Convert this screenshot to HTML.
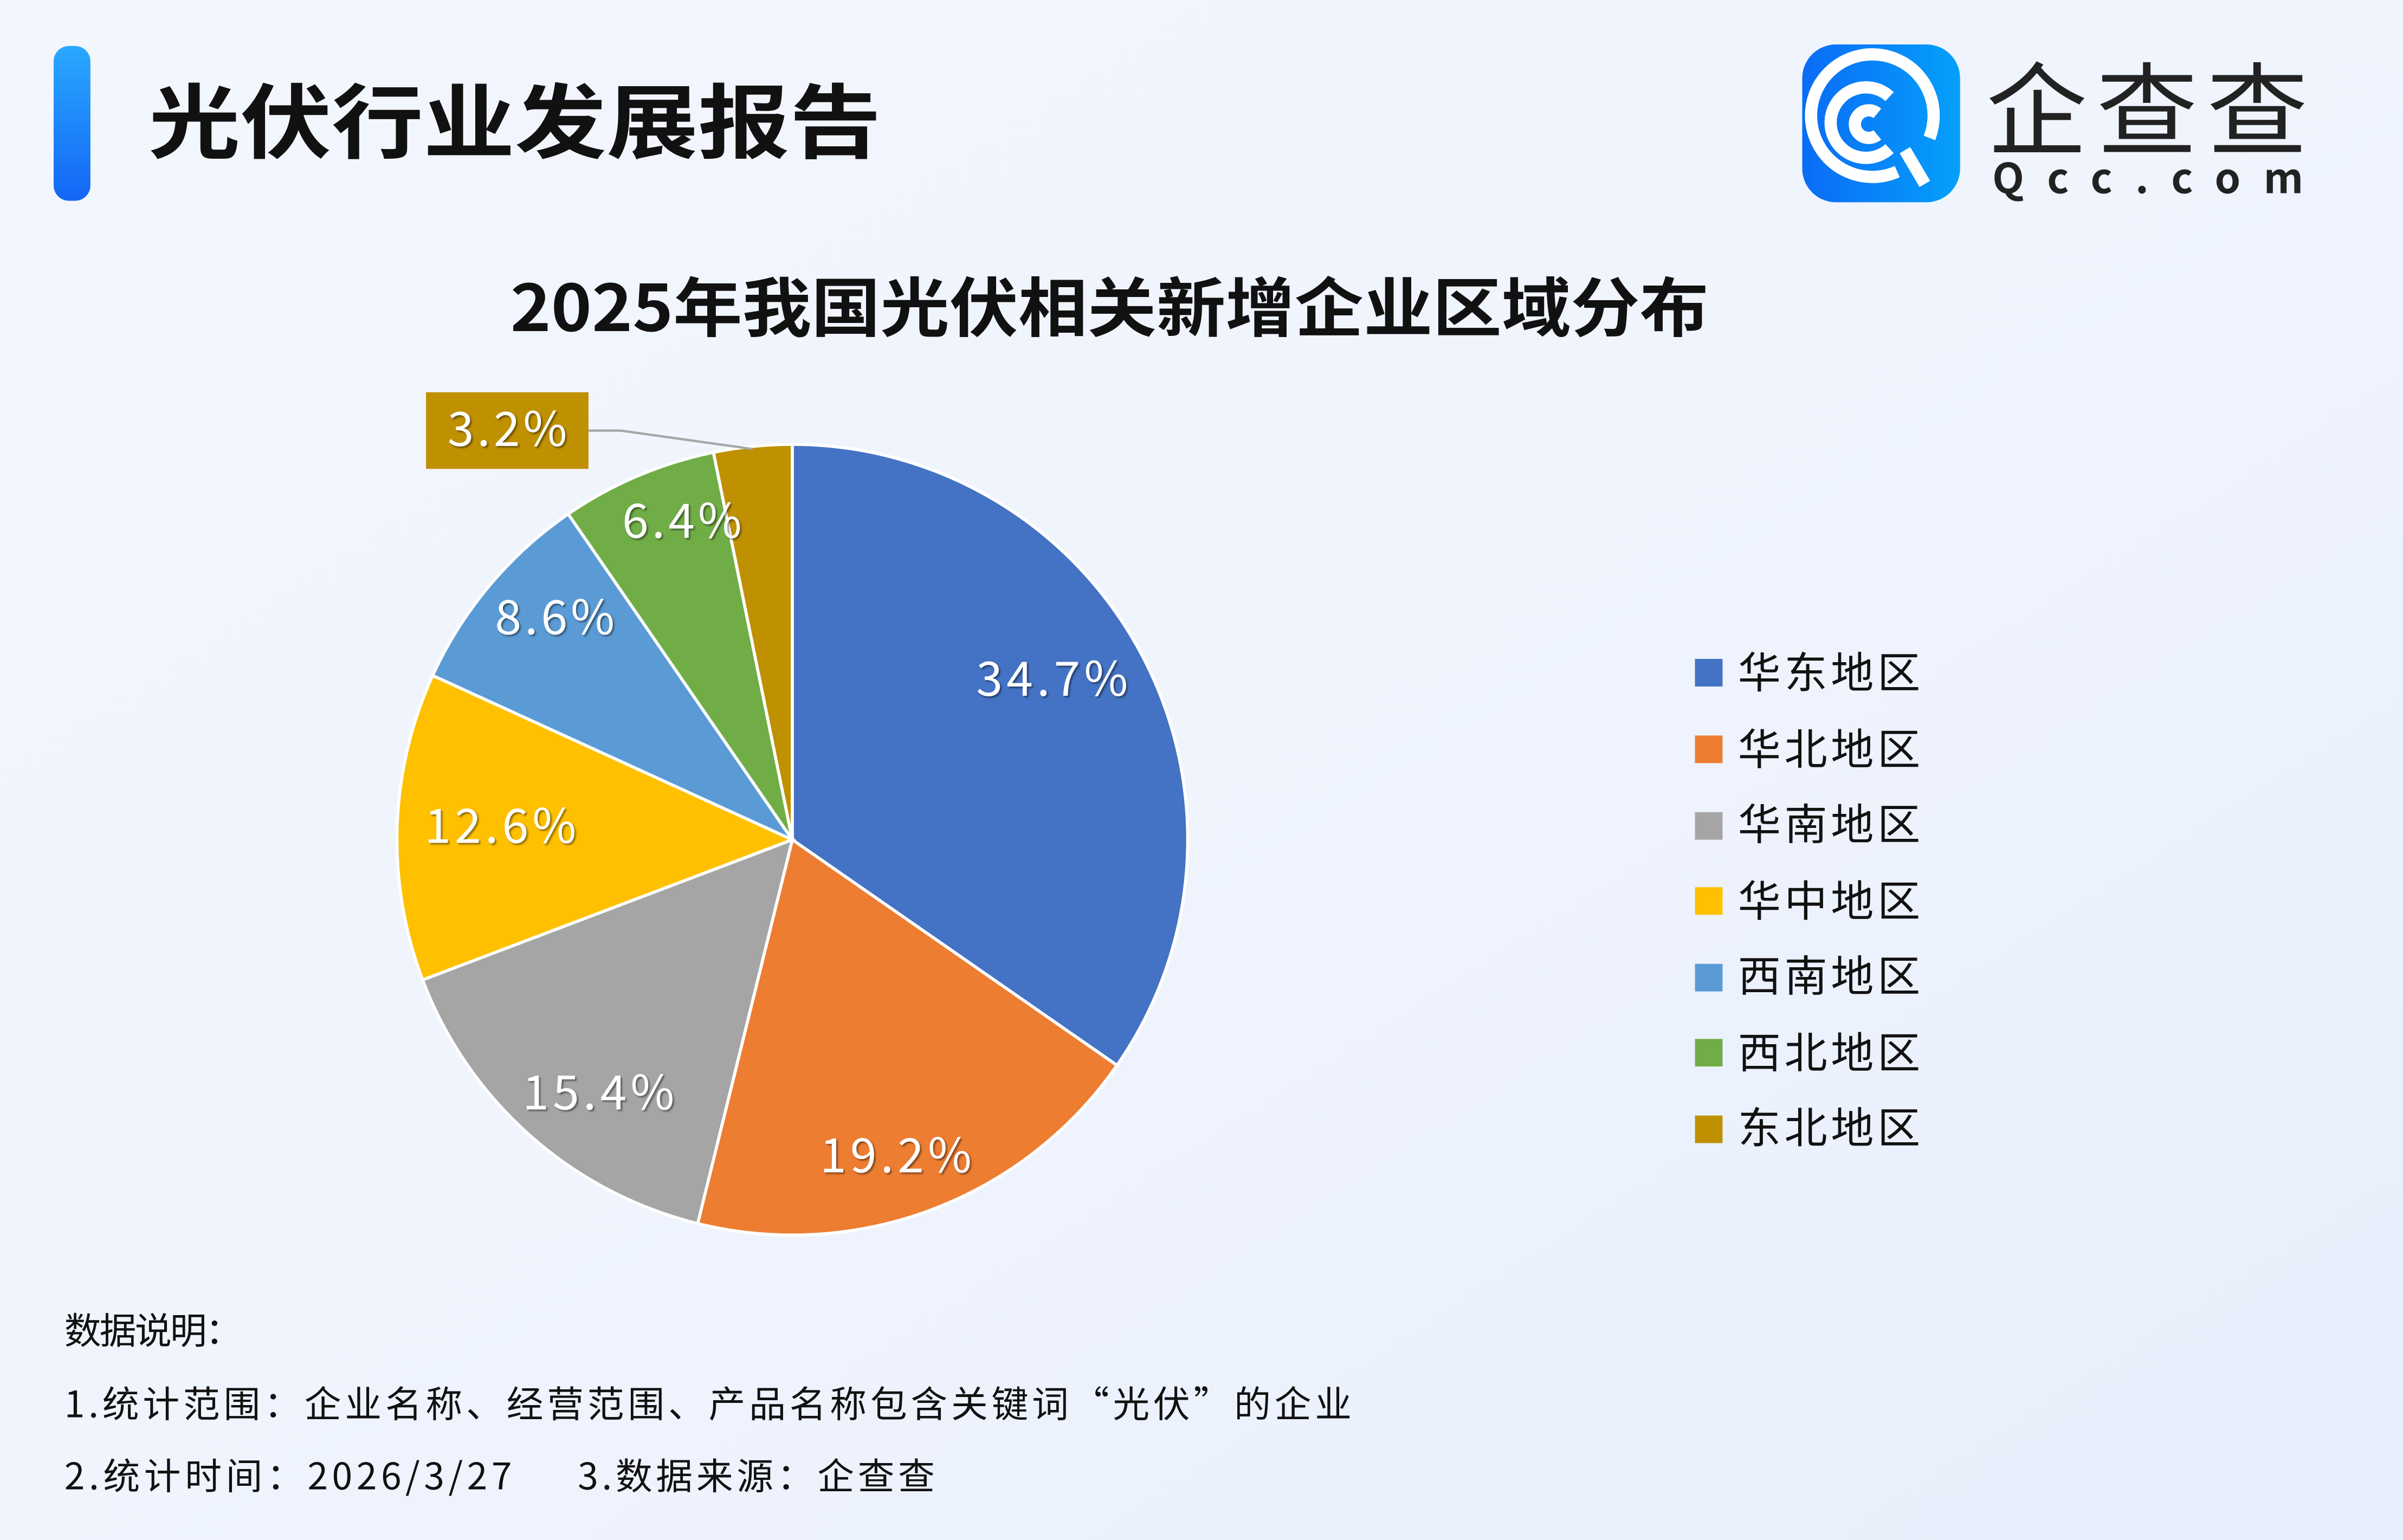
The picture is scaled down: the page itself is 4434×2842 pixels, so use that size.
<!DOCTYPE html>
<html><head><meta charset="utf-8">
<style>
html,body{margin:0;padding:0;width:4434px;height:2842px;overflow:hidden;background:#eef3fd;}
svg{display:block;}
text{font-family:"Noto Sans CJK SC",sans-serif;}
.cj{font-family:"Noto Sans CJK SC",sans-serif;}
</style></head><body>
<svg id="s" width="4434" height="2842" viewBox="0 0 1568 1005" xmlns="http://www.w3.org/2000/svg">
<defs>
<linearGradient id="bg" x1="0" y1="0" x2="1" y2="1">
<stop offset="0" stop-color="#f3f6fd"/><stop offset="0.6" stop-color="#eef3fd"/><stop offset="1" stop-color="#e6eefc"/>
</linearGradient>
<linearGradient id="bar" x1="0" y1="0" x2="0" y2="1">
<stop offset="0" stop-color="#2aa8ff"/><stop offset="1" stop-color="#1366f5"/>
</linearGradient>
<linearGradient id="logo" x1="0" y1="0" x2="1" y2="0">
<stop offset="0" stop-color="#0a6cf5"/><stop offset="1" stop-color="#05a0fb"/>
</linearGradient>
<filter id="sh"><feDropShadow dx="1" dy="1" stdDeviation="0.6" flood-color="#000" flood-opacity="0.45"/></filter>
</defs>
<rect width="1568" height="1005" fill="url(#bg)"/>
<rect x="35" y="30" width="24" height="101" rx="10" fill="url(#bar)"/>
<text class="cj" x="97" y="99" font-size="53" font-weight="bold" fill="#111" textLength="478" lengthAdjust="spacingAndGlyphs">光伏行业发展报告</text>
<!-- logo -->
<rect x="1176" y="29" width="103" height="103" rx="22" fill="url(#logo)"/>
<g fill="none" stroke="#fff" stroke-width="8">
<path d="M1238 112 A40 40 0 1 1 1259 90"/>
<path d="M1233 63 A23 23 0 1 0 1233 97"/>
<path d="M1225 74 A9 9 0 1 0 1225 88"/>
<path d="M1243 98 L1256 120"/>
</g>
<text class="cj" x="1296" y="96" font-size="66" fill="#222" textLength="210">企查查</text>
<text x="1300" y="126" font-size="27" font-weight="bold" fill="#222" textLength="203" lengthAdjust="spacing">Qcc.com</text>
<text class="cj" x="333" y="216" font-size="42" font-weight="bold" fill="#111" textLength="782" lengthAdjust="spacingAndGlyphs">2025年我国光伏相关新增企业区域分布</text>
<g id="pie"></g>
<polyline points="384,281 405,281 491,293" fill="none" stroke="#a6a6a6" stroke-width="1.5"/>
<rect x="278" y="256" width="106" height="50" fill="#bf9000"/>
<g font-size="31" fill="#fff" filter="url(#sh)" class="cj" lengthAdjust="spacingAndGlyphs">
<text x="292" y="291" textLength="78">3.2%</text>
<text x="406" y="351" textLength="78">6.4%</text>
<text x="323" y="414" textLength="78">8.6%</text>
<text x="277" y="550" textLength="99">12.6%</text>
<text x="637" y="454" textLength="99">34.7%</text>
<text x="341" y="724" textLength="99">15.4%</text>
<text x="535" y="765" textLength="99">19.2%</text>
</g>
<g class="cj" font-size="28" fill="#111">
<rect x="1106" y="430" width="18" height="18" fill="#4472c4"/><text x="1134" y="449" textLength="119">华东地区</text>
<rect x="1106" y="480" width="18" height="18" fill="#ed7d31"/><text x="1134" y="499" textLength="119">华北地区</text>
<rect x="1106" y="530" width="18" height="18" fill="#a5a5a5"/><text x="1134" y="548" textLength="119">华南地区</text>
<rect x="1106" y="579" width="18" height="18" fill="#ffc000"/><text x="1134" y="598" textLength="119">华中地区</text>
<rect x="1106" y="629" width="18" height="18" fill="#5b9bd5"/><text x="1134" y="647" textLength="119">西南地区</text>
<rect x="1106" y="678" width="18" height="18" fill="#70ad47"/><text x="1134" y="697" textLength="119">西北地区</text>
<rect x="1106" y="728" width="18" height="18" fill="#bf9000"/><text x="1134" y="746" textLength="119">东北地区</text>
</g>
<g class="cj" font-size="24" fill="#111">
<text x="42" y="877" textLength="116">数据说明：</text>
<text x="42" y="925" textLength="840">1.统计范围：企业名称、经营范围、产品名称包含关键词“光伏”的企业</text>
<text x="42" y="972" textLength="292">2.统计时间：2026/3/27</text>
<text x="377" y="972" textLength="233">3.数据来源：企查查</text>
</g>
</svg>
<script>
var v=[34.7,19.2,15.4,12.6,8.6,6.4,3.2],c=["#4472c4","#ed7d31","#a5a5a5","#ffc000","#5b9bd5","#70ad47","#bf9000"];
var cx=517,cy=548,r=258,t=v.reduce(function(a,b){return a+b}),a=0,h="";
for(var i=0;i<v.length;i++){var b=a+v[i]/t*2*Math.PI;
var x1=cx+r*Math.sin(a),y1=cy-r*Math.cos(a),x2=cx+r*Math.sin(b),y2=cy-r*Math.cos(b);
h+='<path d="M'+cx+' '+cy+' L'+x1+' '+y1+' A'+r+' '+r+' 0 '+((b-a)>Math.PI?1:0)+' 1 '+x2+' '+y2+' Z" fill="'+c[i]+'" stroke="#fff" stroke-width="2"/>';a=b;}
document.getElementById("pie").innerHTML=h;
</script>
</body></html>
